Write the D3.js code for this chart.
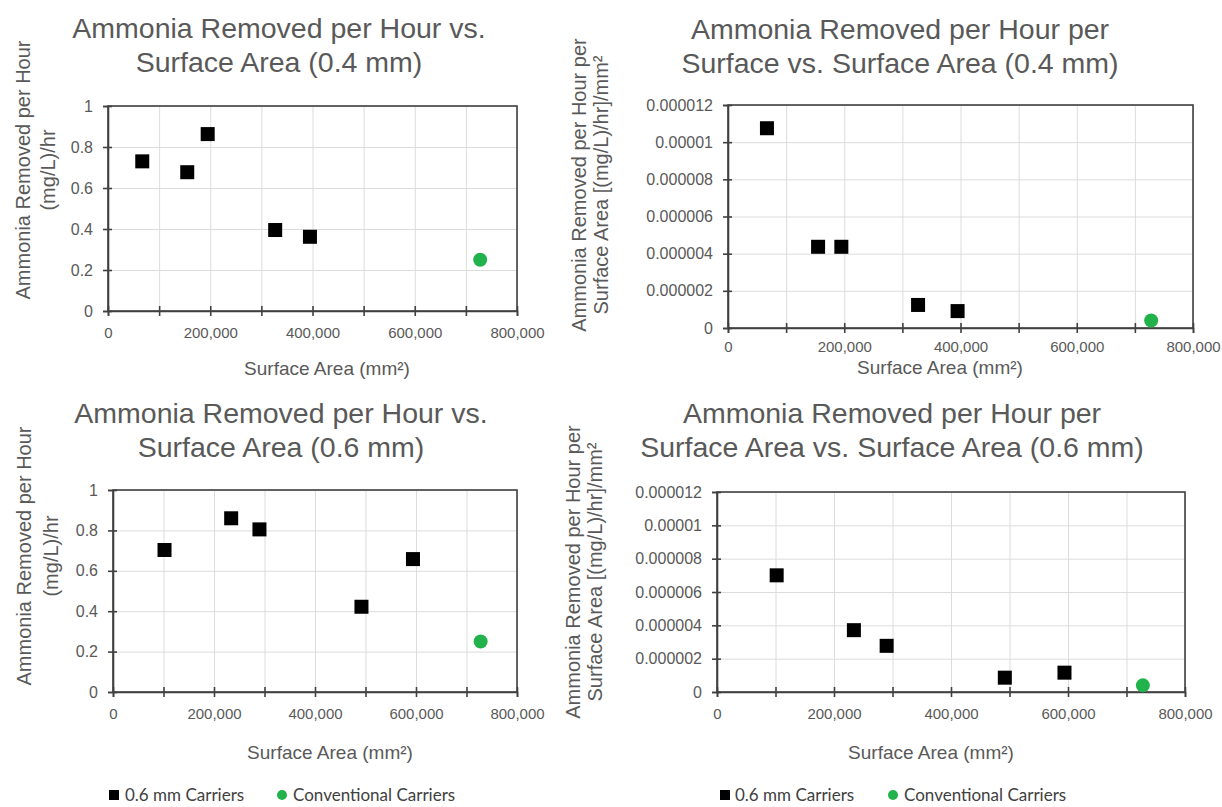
<!DOCTYPE html>
<html>
<head>
<meta charset="utf-8">
<script src="https://cdn.jsdelivr.net/npm/d3@7"></script>
<style>
  body { margin: 0; background: #fff; }
  svg { display: block; font-family: "Liberation Sans", Arial, sans-serif; }
</style>
</head>
<body>
<svg id="chart" width="1222" height="807"></svg>
<script>
// Surface area (mm²) and ammonia removal readings
const surfaceArea04 = [67000, 155000, 195000, 327000, 395000];
const rate04 = [0.73, 0.677, 0.863, 0.395, 0.362];
const ratePerArea04 = [10.75e-6, 4.37e-6, 4.37e-6, 1.24e-6, 0.91e-6];

const surfaceArea06 = [102000, 234000, 290000, 492000, 594000];
const rate06 = [0.703, 0.86, 0.805, 0.422, 0.658];
const ratePerArea06 = [7.0e-6, 3.71e-6, 2.77e-6, 0.86e-6, 1.16e-6];

const conventionalArea = [728000];
const conventionalRate = [0.25];
const conventionalRatePerArea = [0.4e-6];

const xTicks = [0, 100000, 200000, 300000, 400000, 500000, 600000, 700000, 800000];
const rateTicks = [0, 0.2, 0.4, 0.6, 0.8, 1];
const ratePerAreaTicks = [0, 0.000002, 0.000004, 0.000006, 0.000008, 0.00001, 0.000012];

const legendLabels = ['0.6 mm Carriers', 'Conventional Carriers'];

const svg = d3.select('#chart');
const textColor = '#595959',
    axisColor = '#404040',
    gridColor = '#dcdcdc',
    green = '#22b24c';

const panels = [
    {plot: [108, 517, 106, 311], yMax: 1, yTicks: rateTicks,
     area: surfaceArea04, vals: rate04, conv: conventionalRate,
     title: ['Ammonia Removed per Hour vs.', 'Surface Area (0.4 mm)'], titleX: 279, titleY: [38, 72],
     yTitle: ['Ammonia Removed per Hour', '(mg/L)/hr'], yTitleX: [30, 55], yTitleY: 170,
     xTitleX: 327, xTitleY: 375, tickPad: 11},
    {plot: [728, 1193, 105, 328], yMax: 0.000012, yTicks: ratePerAreaTicks,
     area: surfaceArea04, vals: ratePerArea04, conv: conventionalRatePerArea,
     title: ['Ammonia Removed per Hour per', 'Surface vs. Surface Area (0.4 mm)'], titleX: 900, titleY: [39, 73],
     yTitle: ['Ammonia Removed per Hour per', 'Surface Area [(mg/L)/hr]/mm²'], yTitleX: [586, 608], yTitleY: 185,
     xTitleX: 940, xTitleY: 374, tickPad: 8},
    {plot: [113, 517, 490, 692], yMax: 1, yTicks: rateTicks,
     area: surfaceArea06, vals: rate06, conv: conventionalRate,
     title: ['Ammonia Removed per Hour vs.', 'Surface Area (0.6 mm)'], titleX: 281, titleY: [423, 457],
     yTitle: ['Ammonia Removed per Hour', '(mg/L)/hr'], yTitleX: [31, 58], yTitleY: 556,
     xTitleX: 330, xTitleY: 759, tickPad: 11,
     legend: {square: 114, text1: 125, circle: 282, text2: 293, y: 795}},
    {plot: [717, 1185, 492, 692], yMax: 0.000012, yTicks: ratePerAreaTicks,
     area: surfaceArea06, vals: ratePerArea06, conv: conventionalRatePerArea,
     title: ['Ammonia Removed per Hour per', 'Surface Area vs. Surface Area (0.6 mm)'], titleX: 892, titleY: [423, 457],
     yTitle: ['Ammonia Removed per Hour per', 'Surface Area [(mg/L)/hr]/mm²'], yTitleX: [580, 602], yTitleY: 572,
     xTitleX: 931, xTitleY: 759, tickPad: 11,
     legend: {square: 725, text1: 735, circle: 893, text2: 904, y: 795}}
];

const fmtX = d3.format(','),
    fmtY = d3.format('~f');

panels.forEach(p => {
    const [x0, x1, y0, y1] = p.plot,
        x = d3.scaleLinear().domain([0, 800000]).range([x0, x1]),
        y = d3.scaleLinear().domain([0, p.yMax]).range([y1, y0]),
        g = svg.append('g');

  //Gridlines.
    g.append('g')
        .attr('transform', `translate(0,${y1})`)
        .call(d3.axisBottom(x).tickValues(xTicks).tickSize(-(y1 - y0)).tickFormat(''))
        .call(s => s.select('.domain').remove())
        .selectAll('line').attr('stroke', gridColor);
    g.append('g')
        .attr('transform', `translate(${x0},0)`)
        .call(d3.axisLeft(y).tickValues(p.yTicks).tickSize(-(x1 - x0)).tickFormat(''))
        .call(s => s.select('.domain').remove())
        .selectAll('line').attr('stroke', gridColor);

  //Plot border.
    g.append('rect')
        .attr('x', x0).attr('y', y0)
        .attr('width', x1 - x0).attr('height', y1 - y0)
        .attr('fill', 'none')
        .attr('stroke', axisColor)
        .attr('stroke-width', 1.6);

  //Axes with crossing ticks.
    const xAxis = g.append('g')
        .attr('transform', `translate(0,${y1})`)
        .call(d3.axisBottom(x).tickValues(xTicks).tickSize(5).tickPadding(p.tickPad)
            .tickFormat(d => d % 200000 === 0 ? fmtX(d) : ''));
    xAxis.selectAll('line').attr('y1', -5).attr('stroke', axisColor).attr('stroke-width', 1.6);
    xAxis.select('.domain').attr('stroke', axisColor).attr('stroke-width', 1.6);
    xAxis.selectAll('text').attr('fill', textColor).style('font-size', '15px').style('font-family', '"Liberation Sans", Arial, sans-serif');

    const yAxis = g.append('g')
        .attr('transform', `translate(${x0},0)`)
        .call(d3.axisLeft(y).tickValues(p.yTicks).tickSize(5).tickPadding(10)
            .tickFormat(d => fmtY(+d.toFixed(8))));
    yAxis.selectAll('line').attr('x1', 4).attr('stroke', axisColor).attr('stroke-width', 1.6);
    yAxis.select('.domain').attr('stroke', axisColor).attr('stroke-width', 1.6);
    yAxis.selectAll('text').attr('fill', textColor).style('font-size', '16px').style('font-family', '"Liberation Sans", Arial, sans-serif');

  //Points.
    g.selectAll('rect.pt')
        .data(p.area.map((a, i) => [a, p.vals[i]]))
        .join('rect')
        .attr('class', 'pt')
        .attr('x', d => x(d[0]) - 7)
        .attr('y', d => y(d[1]) - 7)
        .attr('width', 14).attr('height', 14)
        .attr('fill', '#000');
    g.selectAll('circle.pt')
        .data(conventionalArea.map((a, i) => [a, p.conv[i]]))
        .join('circle')
        .attr('class', 'pt')
        .attr('cx', d => x(d[0]))
        .attr('cy', d => y(d[1]))
        .attr('r', 7)
        .attr('fill', green);

  //Titles.
    p.title.forEach((t, i) => g.append('text')
        .attr('x', p.titleX).attr('y', p.titleY[i])
        .attr('text-anchor', 'middle')
        .attr('fill', textColor)
        .style('font-size', '28.5px')
        .text(t));
    p.yTitle.forEach((t, i) => g.append('text')
        .attr('transform', `translate(${p.yTitleX[i]},${p.yTitleY}) rotate(-90)`)
        .attr('text-anchor', 'middle')
        .attr('fill', textColor)
        .style('font-size', '20px')
        .text(t));
    g.append('text')
        .attr('x', p.xTitleX).attr('y', p.xTitleY)
        .attr('text-anchor', 'middle')
        .attr('fill', textColor)
        .style('font-size', '19px')
        .text('Surface Area (mm²)');

  //Legend.
    if (p.legend) {
        const l = p.legend,
            lg = g.append('g').style('font-family', 'Lato, "Liberation Sans", sans-serif').style('font-size', '17px');
        lg.append('rect')
            .attr('x', l.square - 5).attr('y', l.y - 5)
            .attr('width', 10).attr('height', 10)
            .attr('fill', '#000');
        lg.append('text')
            .attr('x', l.text1).attr('y', l.y + 6)
            .attr('fill', '#404040')
            .text(legendLabels[0]);
        lg.append('circle')
            .attr('cx', l.circle).attr('cy', l.y)
            .attr('r', 5)
            .attr('fill', green);
        lg.append('text')
            .attr('x', l.text2).attr('y', l.y + 6)
            .attr('fill', '#404040')
            .text(legendLabels[1]);
    }
});
</script>
</body>
</html>
